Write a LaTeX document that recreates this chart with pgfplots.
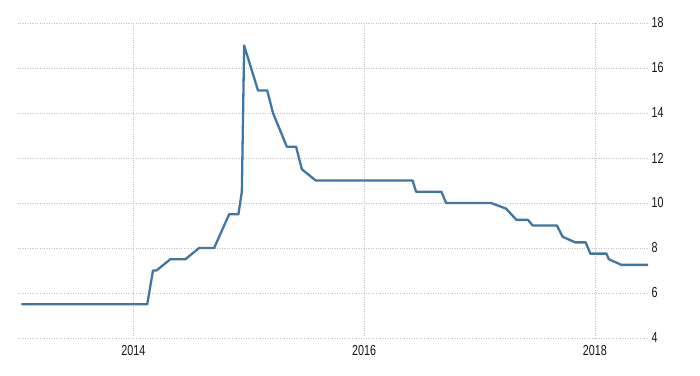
\documentclass[border=0pt]{standalone}
\usepackage{pgfplots}
\pgfplotsset{compat=1.18}
\usepackage{fontspec}
\setmainfont{Liberation Sans}
\newfontfamily\tickfont[FakeStretch=0.74]{Liberation Sans}
\definecolor{lineblue}{RGB}{62,118,166}
\definecolor{gridgray}{RGB}{195,195,195}
\definecolor{ticktext}{RGB}{20,20,20}
\begin{document}
\begin{tikzpicture}[x=1pt,y=1pt]
\begin{axis}[
  name=ax,
  scale only axis,
  width=630pt, height=315pt,
  xmin=2013.0, xmax=2018.46,
  ymin=4, ymax=18,
  xtick={2014,2016,2018},
  xticklabels={2014,2016,2018},
  ytick={4,6,...,18},
  yticklabel pos=right,
  axis line style={draw=none},
  tick style={draw=none},
  grid=major,
  major grid style={gridgray, dotted, line width=0.7pt},
  /pgf/number format/assume math mode=true,
  /pgf/number format/1000 sep={},
  ticklabel style={font=\tickfont\fontsize{14.5}{14.5}\selectfont, text=ticktext},
  yticklabel style={anchor=west, xshift=0pt},
  xticklabel style={yshift=-4pt},
  clip=false,
]
\addplot[lineblue, line width=2.3pt, line join=round] coordinates {
(2013.03,5.5) (2014.12,5.5) (2014.17,7.0) (2014.20,7.0) (2014.32,7.5) (2014.45,7.5)
(2014.57,8.0) (2014.70,8.0) (2014.83,9.5) (2014.91,9.5) (2014.94,10.5) (2014.96,17.0)
(2015.08,15.0) (2015.16,15.0) (2015.21,14.0) (2015.33,12.5) (2015.41,12.5) (2015.46,11.5)
(2015.58,11.0) (2016.42,11.0) (2016.45,10.5) (2016.67,10.5) (2016.71,10.0) (2017.10,10.0)
(2017.23,9.75) (2017.32,9.25) (2017.42,9.25) (2017.46,9.0) (2017.67,9.0) (2017.72,8.5)
(2017.83,8.25) (2017.92,8.25) (2017.96,7.75) (2018.10,7.75) (2018.12,7.5) (2018.23,7.25)
(2018.46,7.25)
};
\end{axis}
\path (ax.south west) ++(-18pt,-37pt) coordinate (bl);
\path (ax.north east) ++(52pt,23pt) coordinate (tr);
\path (bl) rectangle (tr);
\end{tikzpicture}
\end{document}
